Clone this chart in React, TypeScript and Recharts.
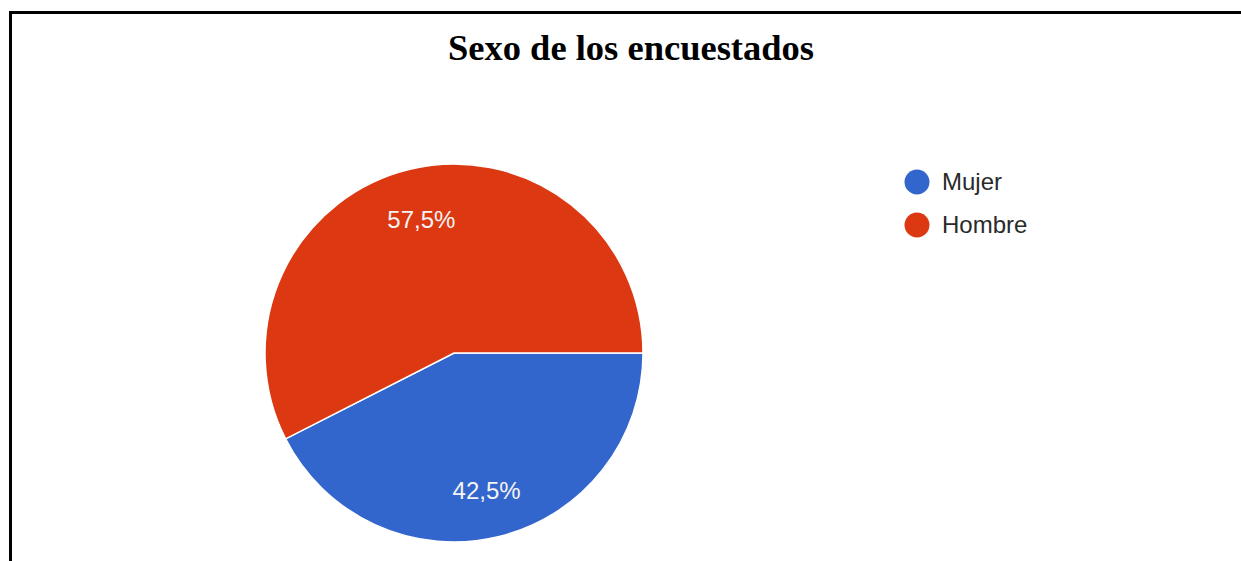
import React from 'react';
import { PieChart, Pie, Cell, Legend } from 'recharts';

const categories = ['Mujer', 'Hombre'];
const percentages = [42.5, 57.5];
const colors = ['#3366cc', '#dc3912'];

const data = categories.map((name, i) => ({ name, value: percentages[i] }));

const RADIAN = Math.PI / 180;

const formatPct = (v: number): string => `${v.toFixed(1).replace('.', ',')}%`;

const renderLabel = (props: any) => {
  const { cx, cy, midAngle, outerRadius, value } = props;
  const r = outerRadius * 0.74;
  const x = cx + r * Math.cos(-midAngle * RADIAN);
  const y = cy + r * Math.sin(-midAngle * RADIAN) + 2;
  return (
    <text
      x={x}
      y={y}
      fill="#f4f4f4"
      textAnchor="middle"
      dominantBaseline="central"
      fontFamily="Arial, 'Liberation Sans', sans-serif"
      fontSize={24}
    >
      {formatPct(value)}
    </text>
  );
};

const renderLegend = (props: any) => {
  const payload = [...(props.payload || [])].sort(
    (a: any, b: any) => categories.indexOf(a.value) - categories.indexOf(b.value)
  );
  return (
    <div>
      {payload.map((entry: any, i: number) => (
        <div
          key={i}
          style={{ display: 'flex', alignItems: 'center', height: 43 }}
        >
          <svg width={28} height={28} style={{ marginRight: 11 }}>
            <circle cx={14} cy={14} r={12.5} fill={entry.color} />
          </svg>
          <span
            style={{
              fontFamily: "Arial, 'Liberation Sans', sans-serif",
              fontSize: 24,
              color: '#2a2a2a'
            }}
          >
            {entry.value}
          </span>
        </div>
      ))}
    </div>
  );
};

const App: React.FC = () => {
  return (
    <div
      style={{
        position: 'absolute',
        left: 0,
        top: 0,
        width: 1241,
        height: 561,
        overflow: 'hidden',
        background: '#fff'
      }}
    >
      <div
        style={{
          position: 'absolute',
          left: 9,
          top: 11,
          width: 1300,
          height: 600,
          borderLeft: '3px solid #000',
          borderTop: '3px solid #000'
        }}
      />
      <div
        style={{
          position: 'absolute',
          left: 0,
          top: 27,
          width: 1262,
          textAlign: 'center',
          fontFamily: "'Times New Roman', 'Liberation Serif', serif",
          fontWeight: 'bold',
          fontSize: 36.5,
          lineHeight: '42px',
          color: '#000'
        }}
      >
        Sexo de los encuestados
      </div>
      <div style={{ position: 'absolute', left: 0, top: 0 }}>
        <PieChart width={1241} height={561} margin={{ top: 0, right: 0, bottom: 0, left: 0 }}>
          <Pie
            data={data}
            dataKey="value"
            nameKey="name"
            cx={454}
            cy={353}
            outerRadius={189}
            startAngle={0}
            endAngle={-360}
            stroke="#fff"
            strokeWidth={1.5}
            label={renderLabel}
            labelLine={false}
            isAnimationActive={false}
          >
            {data.map((d, i) => (
              <Cell key={d.name} fill={colors[i]} />
            ))}
          </Pie>
          <Legend
            layout="vertical"
            verticalAlign="middle"
            align="right"
            content={renderLegend}
            wrapperStyle={{ left: 903, top: 160, right: 'auto', width: 200 }}
          />
        </PieChart>
      </div>
    </div>
  );
};

export default App;
